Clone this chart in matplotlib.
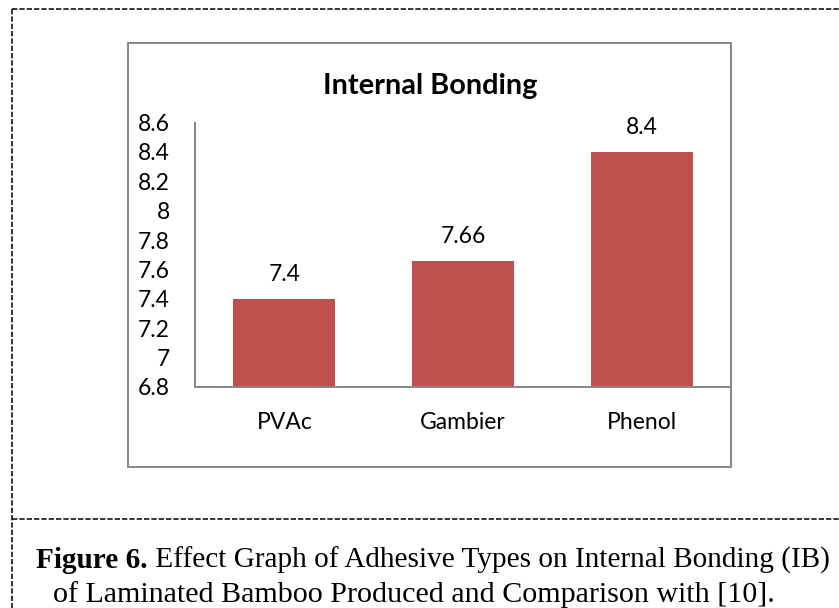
import matplotlib
matplotlib.use("Agg")
import matplotlib.pyplot as plt
from matplotlib.patches import Rectangle
from matplotlib.lines import Line2D
from matplotlib.text import Annotation

categories = ["PVAc", "Gambier", "Phenol"]
values = [7.4, 7.66, 8.4]
value_labels = ["7.4", "7.66", "8.4"]
yticks = [6.8, 7.0, 7.2, 7.4, 7.6, 7.8, 8.0, 8.2, 8.4, 8.6]
ytick_labels = ["6.8", "7", "7.2", "7.4", "7.6", "7.8", "8", "8.2", "8.4", "8.6"]
title = "Internal Bonding"
caption_bold = "Figure 6."
caption_rest = " Effect Graph of Adhesive Types on Internal Bonding (IB)"
caption_line2 = "of Laminated Bamboo Produced and Comparison with [10]."

W, H = 839, 608
fig = plt.figure(figsize=(W / 100, H / 100), dpi=100)

def fx(px):
    return px / W

def fy(py):
    return 1 - py / H

SANS = ["Lato", "DejaVu Sans"]
SERIF = ["Liberation Serif", "DejaVu Serif"]
GRAY = "#868686"

# outer dashed frame
dash = (0, (3.5, 1.3))
lwd = 1.1
fig.add_artist(Line2D([fx(11.5), fx(11.5)], [fy(9), fy(608)], color="black", lw=lwd, linestyle=dash))
fig.add_artist(Line2D([fx(11.5), fx(839)], [fy(9), fy(9)], color="black", lw=lwd, linestyle=dash))
fig.add_artist(Line2D([fx(11.5), fx(839)], [fy(519), fy(519)], color="black", lw=lwd, linestyle=dash))

# chart box
fig.add_artist(Rectangle((fx(128), fy(467)), fx(731) - fx(128), fy(43) - fy(467),
                         transform=fig.transFigure, fill=False, edgecolor=GRAY, lw=1.4))

ax = fig.add_axes([fx(195), fy(387), fx(731) - fx(195), fy(122.5) - fy(387)])
x = list(range(len(categories)))
ax.bar(x, values, width=0.57, color="#C0504D", bottom=0)
ax.set_xlim(-0.5, len(categories) - 0.5)
ax.set_ylim(6.8, 8.6)
ax.set_yticks(yticks)
ax.set_yticklabels(ytick_labels, fontfamily=SANS, fontsize=16.5)
ax.set_xticks(x)
ax.set_xticklabels(categories, fontfamily=SANS, fontsize=16.5)
ax.tick_params(axis="both", length=0, pad=18)
for s in ["top", "right"]:
    ax.spines[s].set_visible(False)
for s in ["left", "bottom"]:
    ax.spines[s].set_color(GRAY)
    ax.spines[s].set_linewidth(1.4)

for xi, v, lab in zip(x, values, value_labels):
    ax.annotate(lab, (xi, v), xytext=(0, 13), textcoords="offset points",
                ha="center", va="baseline", fontfamily=SANS, fontsize=16.5)

fig.text(fx(430), fy(86), title, ha="center", va="center", fontfamily=SANS,
         fontsize=20.8, fontweight="bold")

# caption
tb = fig.text(fx(36), fy(568), caption_bold, ha="left", va="baseline", fontfamily=SERIF,
              fontsize=21.1, fontweight="bold")
ann = Annotation(caption_rest, xy=(1, 0), xycoords=tb, ha="left", va="bottom",
                 fontfamily=SERIF, fontsize=21.1)
fig.add_artist(ann)
fig.text(fx(53), fy(602), caption_line2, ha="left", va="baseline", fontfamily=SERIF, fontsize=21.6)

fig.savefig("out.png", dpi=100)
